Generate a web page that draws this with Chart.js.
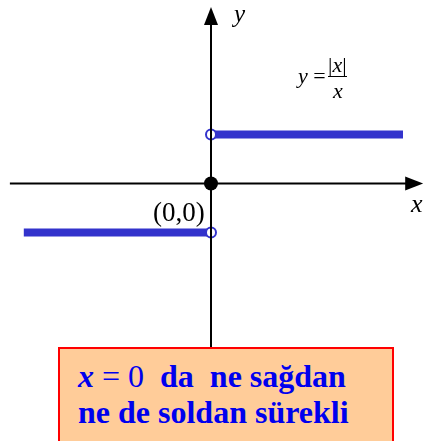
<!DOCTYPE html>
<html>
<head>
<meta charset="utf-8">
<script src="https://cdn.jsdelivr.net/npm/chart.js@4/dist/chart.umd.min.js"></script>
<style>
  body { margin: 0; background: #fff; }
  #wrap { position: relative; width: 425px; height: 441px; overflow: hidden; font-family: "Liberation Serif", "Times New Roman", serif; }
  #graph { position: absolute; left: 0; top: 0; }
  .lbl { position: absolute; line-height: 1; color: #000; white-space: nowrap; }
  .it { font-style: italic; }
  #box {
    position: absolute; left: 58px; top: 347px; width: 314px; height: 120px;
    background: #ffcc99; border: 2px solid #ff0000; padding: 9px 0 0 18px; box-sizing: content-box;
    color: #0000ee; font-size: 32px; font-weight: bold; line-height: 36px; white-space: nowrap;
  }
  #box .eq { font-weight: normal; }
</style>
</head>
<body>
<div id="wrap">
  <canvas id="graph" width="425" height="441"></canvas>
  <span class="lbl it" style="left:234px; top:1px; font-size:25px;">y</span>
  <span class="lbl it" style="left:411px; top:191px; font-size:26px;">x</span>
  <span class="lbl" style="left:153px; top:199px; font-size:27px;">(0,0)</span>
  <span class="lbl" style="left:298px; top:65px; font-size:22px;"><span class="it">y</span> =</span>
  <span class="lbl" style="left:328px; top:54px; font-size:22px;">|<span class="it">x</span>|</span>
  <div style="position:absolute; left:328px; top:76px; width:19px; height:1px; background:#000;"></div>
  <span class="lbl it" style="left:333px; top:80px; font-size:22px;">x</span>
  <div id="box"><span class="it">x</span><span class="eq"> = 0</span>&nbsp; da&nbsp; ne sağdan<br>ne de soldan sürekli</div>
</div>
<script>
// y = |x| / x : -1 for x < 0, 1 for x > 0
const leftPiece = [-3.9, 0]
const rightPiece = [0, 4]
const pieceValues = [-1, 1]
const openX = [0, 0]
const openY = [-1, 1]
const originPoint = [0, 0]

// axis extents (in chart units) and the window around the origin
const xAxisEnds = [-4.19, 4.42]
const yAxisEnds = [-5.3, 3.6]
const xRange = [-211 / 48, 214 / 48]
const yRange = [-(441 - 183.5) / 49, 183.5 / 49]

const blue = "#3333cc"

function seg(xs, y) {
    return xs.map(x => ({ x: x, y: y }))
}

// arrow heads at the positive ends of both axes
const arrowPlugin = {
    id: "arrows",
    afterDatasetsDraw(chart) {
        const ctx = chart.ctx
        const sx = chart.scales.x
        const sy = chart.scales.y
        const ox = sx.getPixelForValue(0)
        const oy = sy.getPixelForValue(0)
        const tx = sx.getPixelForValue(xAxisEnds[1])
        const ty = sy.getPixelForValue(yAxisEnds[1])
        ctx.save()
        ctx.fillStyle = "#000"
        ctx.beginPath()
        ctx.moveTo(tx, oy)
        ctx.lineTo(tx - 18, oy - 7)
        ctx.lineTo(tx - 18, oy + 7)
        ctx.closePath()
        ctx.fill()
        ctx.beginPath()
        ctx.moveTo(ox, ty)
        ctx.lineTo(ox - 7, ty + 18)
        ctx.lineTo(ox + 7, ty + 18)
        ctx.closePath()
        ctx.fill()
        ctx.restore()
    }
}

const data = {
    datasets: [
        {
            data: [{ x: originPoint[0], y: originPoint[1] }],
            pointRadius: 7, pointBackgroundColor: "#000", pointBorderWidth: 0,
            showLine: false, order: 1
        },
        {
            data: [{ x: xAxisEnds[0], y: 0 }, { x: xAxisEnds[1] - 0.2, y: 0 }],
            borderColor: "#000", borderWidth: 2, pointRadius: 0, showLine: true, order: 2
        },
        {
            data: [{ x: 0, y: yAxisEnds[0] }, { x: 0, y: yAxisEnds[1] - 0.2 }],
            borderColor: "#000", borderWidth: 2, pointRadius: 0, showLine: true, order: 2
        },
        {
            data: openX.map((x, i) => ({ x: x, y: openY[i] })),
            pointRadius: 5, pointBackgroundColor: "#fff", pointBorderColor: blue,
            pointBorderWidth: 2, showLine: false, order: 3
        },
        {
            data: seg(leftPiece, pieceValues[0]),
            borderColor: blue, borderWidth: 8, pointRadius: 0, showLine: true, order: 4
        },
        {
            data: seg(rightPiece, pieceValues[1]),
            borderColor: blue, borderWidth: 8, pointRadius: 0, showLine: true, order: 4
        }
    ]
}

new Chart(document.getElementById("graph"), {
    type: "scatter",
    data: data,
    options: {
        responsive: false,
        animation: false,
        layout: { padding: 0, autoPadding: false },
        plugins: { legend: { display: false }, tooltip: { enabled: false } },
        scales: {
            x: { type: "linear", display: false, min: xRange[0], max: xRange[1] },
            y: { type: "linear", display: false, min: yRange[0], max: yRange[1] }
        }
    },
    plugins: [arrowPlugin]
})
</script>
</body>
</html>
